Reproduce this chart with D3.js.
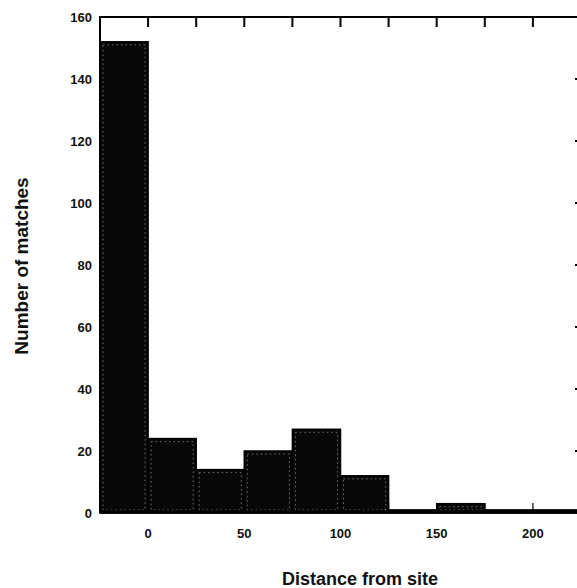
<!DOCTYPE html>
<html>
<head>
<meta charset="utf-8">
<script src="https://cdn.jsdelivr.net/npm/d3@7"></script>
<style>
  body { margin: 0; background: #fff; }
  text { font-family: "Liberation Sans", Arial, sans-serif; font-weight: bold; fill: #111; }
</style>
</head>
<body>
<svg></svg>
<script>
var width = 577;
var height = 588;

// histogram bins (distance from site) and counts
var binStarts = [-25, 0, 25, 50, 75, 100, 125, 150, 175, 200];
var binWidth = 25;
var counts = [152, 24, 14, 20, 27, 12, 1, 3, 1, 1];
var xTicks = [0, 50, 100, 150, 200];
var yTicks = [0, 20, 40, 60, 80, 100, 120, 140, 160];

var svg = d3.select("svg")
  .attr("width", width)
  .attr("height", height)

var x = d3.scaleLinear().domain([-25, 225]).range([100, 581]);
var y = d3.scaleLinear().domain([0, 160]).range([513, 17]);

var data = binStarts.map(function(s, i) { return {x0: s, x1: s + binWidth, n: counts[i]}; });

// bars
var bar = svg.selectAll(".bar")
  .data(data)
  .enter().append("g")
  .attr("class", "bar");

bar.append("rect")
  .attr("x", function(d) { return x(d.x0); })
  .attr("y", function(d) { return y(d.n); })
  .attr("width", function(d) { return x(d.x1) - x(d.x0); })
  .attr("height", function(d) { return y(0) - y(d.n); })
  .style("fill", "#080808")
  .style("stroke", "#000")
  .style("stroke-width", 1.5);

// scanned look: faint dotted inner edge
bar.filter(function(d) { return y(0) - y(d.n) > 7; })
  .append("rect")
  .attr("x", function(d) { return x(d.x0) + 3; })
  .attr("y", function(d) { return y(d.n) + 3; })
  .attr("width", function(d) { return x(d.x1) - x(d.x0) - 6; })
  .attr("height", function(d) { return y(0) - y(d.n) - 6; })
  .style("fill", "none")
  .style("stroke", "#8a8a8a")
  .style("stroke-width", 0.8)
  .style("stroke-dasharray", "1.5,3");

// frame
svg.append("path")
  .attr("d", "M" + x(-25) + "," + y(0) + "V" + y(160) + "H" + x(225) + "V" + y(0))
  .style("fill", "none")
  .style("stroke", "#000")
  .style("stroke-width", 2);

svg.append("line")
  .attr("x1", x(-25)).attr("x2", x(225))
  .attr("y1", y(0) - 1).attr("y2", y(0) - 1)
  .style("stroke", "#000")
  .style("stroke-width", 3.5);

// inward ticks
var minor = d3.range(-25, 226, 25);
svg.selectAll(".ttick")
  .data(minor).enter().append("line")
  .attr("x1", function(d) { return x(d); }).attr("x2", function(d) { return x(d); })
  .attr("y1", y(160)).attr("y2", y(160) + 10)
  .style("stroke", "#000").style("stroke-width", 2);

svg.selectAll(".btick")
  .data(minor).enter().append("line")
  .attr("x1", function(d) { return x(d); }).attr("x2", function(d) { return x(d); })
  .attr("y1", y(0)).attr("y2", y(0) - 10)
  .style("stroke", "#000").style("stroke-width", 1.2);

svg.selectAll(".rtick")
  .data(yTicks).enter().append("line")
  .attr("x1", x(225)).attr("x2", x(225) - 6)
  .attr("y1", function(d) { return y(d); }).attr("y2", function(d) { return y(d); })
  .style("stroke", "#000").style("stroke-width", 2);

// tick labels
svg.selectAll(".ylab")
  .data(yTicks).enter().append("text")
  .attr("x", 92)
  .attr("y", function(d) { return y(d); })
  .attr("dy", "0.35em")
  .attr("text-anchor", "end")
  .attr("font-size", "13px")
  .text(function(d) { return d; });

svg.selectAll(".xlab")
  .data(xTicks).enter().append("text")
  .attr("x", function(d) { return x(d); })
  .attr("y", 538)
  .attr("text-anchor", "middle")
  .attr("font-size", "13px")
  .text(function(d) { return d; });

// axis titles
svg.append("text")
  .attr("x", 360)
  .attr("y", 585)
  .attr("text-anchor", "middle")
  .attr("font-size", "18px")
  .text("Distance from site");

svg.append("text")
  .attr("transform", "translate(28,266) rotate(-90)")
  .attr("text-anchor", "middle")
  .attr("font-size", "19px")
  .text("Number of matches");
</script>
</body>
</html>
